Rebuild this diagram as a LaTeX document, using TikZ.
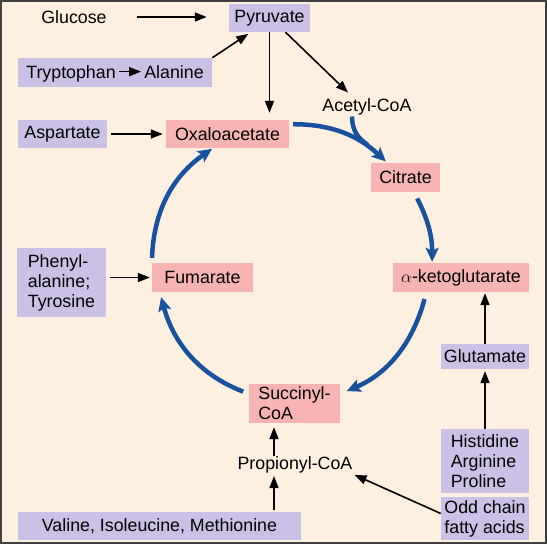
\documentclass[tikz,border=0pt]{standalone}
\usepackage{fontspec}
\setmainfont{Liberation Sans}
\usetikzlibrary{arrows.meta,positioning}
\definecolor{bgcream}{RGB}{253,240,224}
\definecolor{aminofill}{RGB}{203,193,231}
\definecolor{cycfill}{RGB}{247,180,178}
\definecolor{cycblue}{RGB}{24,82,158}

\begin{document}
\begin{tikzpicture}[x=1pt, y=1pt,
    lbl/.style={font=\fontsize{17.8}{20}\selectfont, inner sep=1pt},
    amino/.style={lbl, fill=aminofill, inner sep=0pt, align=left},
    inter/.style={lbl, fill=cycfill, inner sep=0pt, align=left},
    arr/.style={-{Triangle[length=12pt,width=9pt]}, line width=1.6pt},
    cyc/.style={draw=cycblue, line width=4.5pt, -{Stealth[length=14pt,width=13pt,inset=3pt]}}
]
\useasboundingbox (0,0) rectangle (547,-544);
\draw[fill=bgcream, draw=black!75, line width=2pt] (1,-1) rectangle (546,-543);

% top row
\node[lbl] (glc) at (74,-17) {Glucose};
\node[amino, minimum width=81pt, minimum height=28pt] (pyr) at (269.5,-18) {Pyruvate};
\node[amino, minimum width=194pt, minimum height=29pt] (trpbox) at (115,-72.5) {};
\node[lbl, anchor=base] (trp) at (71,-78) {Tryptophan};
\node[lbl, anchor=base] (ala) at (174,-78) {Alanine};
\node[lbl] (aco) at (367,-107) {Acetyl-CoA};

% cycle
\node[amino, minimum width=89pt, minimum height=28pt] (asp) at (62.5,-134) {Aspartate};
\node[inter, minimum width=123pt, minimum height=28pt] (oxa) at (227.5,-134) {Oxaloacetate};
\node[inter, minimum width=69pt, minimum height=29pt] (cit) at (405.5,-177.5) {Citrate};
\node[inter, minimum width=136pt, minimum height=29pt] (akg) at (461,-277.5) {$\alpha$-ketoglutarate};
\node[inter, minimum width=101pt, minimum height=29pt] (fum) at (202.5,-277.5) {Fumarate};
\node[amino, minimum width=89pt, minimum height=69pt] (phe) at (61.5,-282.5) {Phenyl-\\alanine;\\Tyrosine};
\node[inter, minimum width=91pt, minimum height=39pt] (suc) at (294.5,-403.5) {Succinyl-\\CoA};

% bottom
\node[lbl] (prop) at (295,-465) {Propionyl-CoA};
\node[amino, minimum width=283pt, minimum height=28pt] (val) at (159.5,-526) {Valine, Isoleucine, Methionine};
\node[amino, minimum width=88pt, minimum height=25pt] (glu) at (485,-356.5) {Glutamate};
\node[amino, minimum width=88pt, minimum height=64pt] (his) at (485,-461) {Histidine\\Arginine\\Proline};
\node[amino, minimum width=88pt, minimum height=43pt] (odd) at (485,-518.5) {Odd chain\\fatty acids};
\coordinate (vcol) at (274,0);
\coordinate (join) at (368,-145);

% blue cycle arrows
\draw[cyc, shorten <=4pt, shorten >=2pt] (oxa.9) to[out=0, in=137] (cit.141);
\draw[draw=cycblue, line width=4.5pt] ([xshift=-15pt]aco.south) to[out=-90, in=148] (join);
\draw[cyc, shorten <=7pt, shorten >=1pt] (cit.-60) to[out=-63, in=90] (akg.153);
\draw[cyc, shorten <=7pt, shorten >=7pt] (akg.203) to[out=-105, in=23] (suc.12);
\draw[cyc, shorten <=6pt, shorten >=5pt] (suc.168) to[out=159, in=-75] (fum.199);
\draw[cyc, shorten <=6pt, shorten >=1pt] (fum.165) to[out=88, in=-145] (oxa.224);

% black arrows
\draw[arr, shorten <=29pt, shorten >=22pt] (glc.east) -- (glc.east -| pyr.west);
\draw[arr, shorten <=2pt, shorten >=2pt] (trp.east |- ala) -- (ala.west);
\draw[arr, shorten >=3pt] (trpbox.north east) -- ([xshift=22pt]pyr.south west);
\draw[arr, shorten >=7pt] (pyr.south) -- (pyr.south |- oxa.north);
\draw[arr] ([xshift=16pt]pyr.south) -- ([xshift=-19pt,yshift=5pt]aco.north);
\draw[arr, shorten <=4pt, shorten >=3pt] (asp) -- (oxa);
\draw[arr, shorten <=4pt, shorten >=2pt] (phe.east |- fum) -- (fum.west);
\draw[arr, shorten >=4pt] (prop.north -| vcol) -- (suc.south -| vcol);
\draw[arr, shorten <=2pt, shorten >=1.5pt] (val.north -| vcol) -- (prop.south -| vcol);
\draw[arr, shorten >=1pt] ([yshift=5pt]odd.west) -- (prop.south east);
\draw[arr, shorten >=1pt] (glu.north) -- (glu.north |- akg.south);
\draw[arr, shorten >=2pt] (his.north) -- (glu.south);
\end{tikzpicture}
\end{document}
